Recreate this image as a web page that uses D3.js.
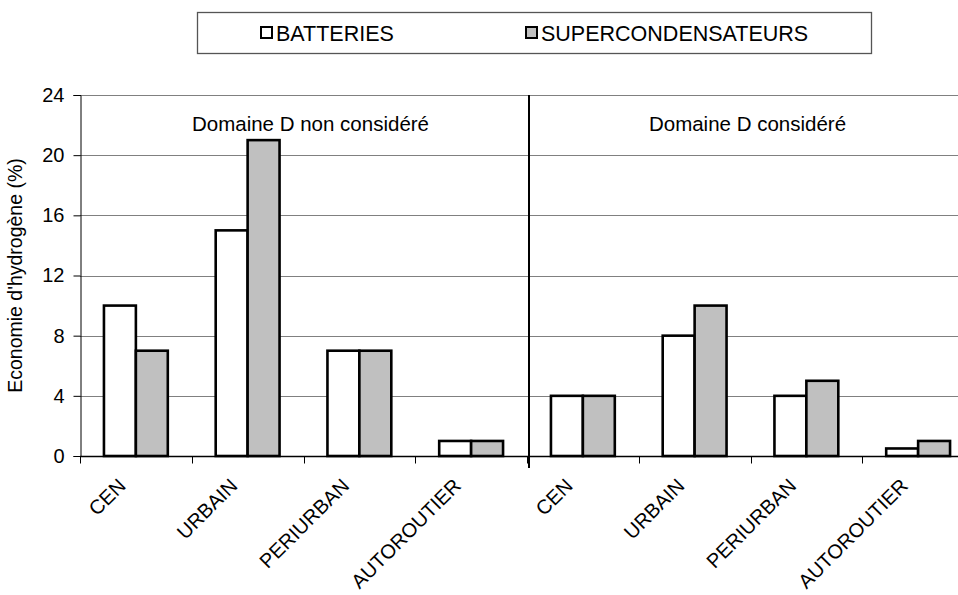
<!DOCTYPE html>
<html>
<head>
<meta charset="utf-8">
<script src="https://cdn.jsdelivr.net/npm/d3@7/dist/d3.min.js"></script>
<style>
  html, body { margin: 0; padding: 0; background: #fff; }
  svg { display: block; font-family: "Liberation Sans", Arial, sans-serif; }
</style>
</head>
<body>
<svg id="chart" width="958" height="595"></svg>
<script>
// Hydrogen savings by driving cycle, with and without domain D
const cycles = ["CEN", "URBAIN", "PERIURBAN", "AUTOROUTIER"];
const domains = ["Domaine D non considéré", "Domaine D considéré"];
const seriesNames = ["BATTERIES", "SUPERCONDENSATEURS"];
const batteries = [10, 15, 7, 1, 4, 8, 4, 0.5];
const supercondensateurs = [7, 21, 7, 1, 4, 10, 5, 1];
const yTicks = [0, 4, 8, 12, 16, 20, 24];
const yLabel = "Economie d'hydrogène (%)";

const fills = ["#ffffff", "#c0c0c0"];

const svg = d3.select("#chart");
const plot = { left: 80, right: 974, top: 95, bottom: 456 };

// one slot per (domain, cycle) pair
const slots = domains.flatMap((d, di) => cycles.map((c, ci) => ({ key: di + "-" + ci, cycle: c, domain: di, i: di * cycles.length + ci })));
const rows = slots.map(s => ({ ...s, values: [batteries[s.i], supercondensateurs[s.i]] }));

const x = d3.scaleBand().domain(slots.map(s => s.key)).range([plot.left, plot.right]).padding(0);
const xs = d3.scaleBand().domain(seriesNames).range([0, x.bandwidth()]).paddingInner(0).paddingOuter(0.75);
const y = d3.scaleLinear().domain([0, 24]).range([plot.bottom, plot.top]);

// horizontal gridlines
svg.append("g")
  .selectAll("line")
  .data(yTicks.filter(t => t > 0))
  .join("line")
  .attr("x1", plot.left).attr("x2", plot.right)
  .attr("y1", d => Math.round(y(d)) + 0.5).attr("y2", d => Math.round(y(d)) + 0.5)
  .attr("stroke", "#808080").attr("stroke-width", 1);

// bars
const groups = svg.append("g").selectAll("g")
  .data(rows)
  .join("g")
  .attr("transform", d => `translate(${x(d.key)},0)`);

groups.selectAll("rect")
  .data(d => d.values.map((v, k) => ({ v, k })))
  .join("rect")
  .attr("x", d => xs(seriesNames[d.k]))
  .attr("width", xs.bandwidth())
  .attr("y", d => y(d.v))
  .attr("height", d => y(0) - y(d.v))
  .attr("fill", d => fills[d.k])
  .attr("stroke", "#000")
  .attr("stroke-width", 2.6);

// y axis
const yAxis = svg.append("g")
  .attr("transform", `translate(${plot.left + 0.5},0)`)
  .call(d3.axisLeft(y).tickValues(yTicks).tickSize(7).tickPadding(9).tickFormat(d3.format("d")));
yAxis.select(".domain").attr("stroke", "#000");
yAxis.selectAll(".tick line").attr("stroke", "#000");
yAxis.selectAll(".tick text").attr("font-size", 20).attr("fill", "#000")
  .attr("font-family", "'Liberation Sans', Arial, sans-serif");

// x axis with ticks on category boundaries
const xAxisG = svg.append("g").attr("transform", `translate(0,${Math.round(y(0)) + 0.5})`);
xAxisG.append("line")
  .attr("x1", plot.left).attr("x2", plot.right)
  .attr("stroke", "#000").attr("stroke-width", 1.3);
xAxisG.selectAll("line.tick")
  .data(slots)
  .join("line")
  .attr("class", "tick")
  .attr("x1", d => Math.round(x(d.key)) + 0.5).attr("x2", d => Math.round(x(d.key)) + 0.5)
  .attr("y1", 0).attr("y2", 7)
  .attr("stroke", "#000");

// category labels, rotated
svg.append("g").selectAll("text")
  .data(slots)
  .join("text")
  .attr("transform", d => `translate(${x(d.key) + x.bandwidth() / 2 - 9},${plot.bottom + 31}) rotate(-45)`)
  .attr("text-anchor", "end")
  .attr("font-size", 20)
  .text(d => d.cycle);

// divider between the two domains
const split = x(slots[cycles.length].key);
svg.append("line")
  .attr("x1", split + 2).attr("x2", split + 2)
  .attr("y1", y(24)).attr("y2", plot.bottom + 12)
  .attr("stroke", "#000").attr("stroke-width", 2);

// domain captions
const halfCenters = [
  (plot.left + split) / 2 + 7,
  (split + plot.right) / 2 - 3
];
svg.append("g").selectAll("text")
  .data(domains)
  .join("text")
  .attr("x", (d, i) => halfCenters[i])
  .attr("y", 131)
  .attr("text-anchor", "middle")
  .attr("font-size", 20.5)
  .text(d => d);

// y axis title
svg.append("text")
  .attr("transform", `translate(22,${(plot.top + plot.bottom) / 2}) rotate(-90)`)
  .attr("text-anchor", "middle")
  .attr("font-size", 19.5)
  .text(yLabel);

// legend
const legend = svg.append("g");
legend.append("rect")
  .attr("x", 197.5).attr("y", 12.5).attr("width", 674).attr("height", 41)
  .attr("fill", "#fff").attr("stroke", "#555").attr("stroke-width", 1.3);
const legendX = [261, 526];
const items = legend.selectAll("g.item")
  .data(seriesNames)
  .join("g")
  .attr("class", "item")
  .attr("transform", (d, i) => `translate(${legendX[i]},0)`);
items.append("rect")
  .attr("x", 0).attr("y", 27).attr("width", 11).attr("height", 11)
  .attr("fill", (d, i) => fills[i]).attr("stroke", "#000").attr("stroke-width", 2);
items.append("text")
  .attr("x", 15).attr("y", 40.5)
  .attr("font-size", 21.5)
  .text(d => d);
</script>
</body>
</html>
